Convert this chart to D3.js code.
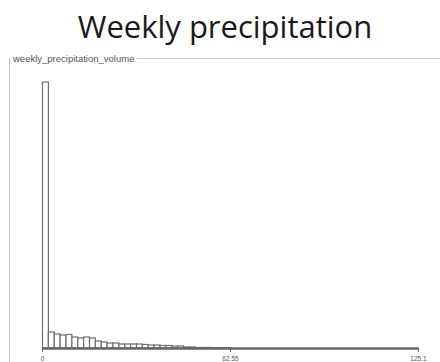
<!DOCTYPE html>
<html>
<head>
<meta charset="utf-8">
<script src="https://cdn.jsdelivr.net/npm/d3@7"></script>
<style>
  body { margin: 0; background: #fff; }
  svg { display: block; }
</style>
</head>
<body>
<svg id="chart" width="440" height="362"></svg>
<script>
// Histogram of weekly precipitation volume, 64 bins from 0 to 125.1
var title = "Weekly precipitation";
var fieldName = "weekly_precipitation_volume";
var xMin = 0, xMax = 125.1;
var tickValues = [0, 62.55, 125.1];
var tickLabels = ["0", "62.55", "125.1"];
var binCounts = [2660, 160, 140, 130, 135, 110, 100, 110, 100, 70, 60, 50, 50, 40, 40, 40,
                 40, 35, 30, 30, 25, 25, 20, 20, 10, 10, 5, 5, 5, 3, 3, 3,
                 0, 0, 0, 0, 0, 0, 0, 0, 0, 0, 0, 0, 0, 0, 0, 0,
                 0, 0, 0, 0, 0, 0, 0, 0, 0, 0, 0, 0, 0, 0, 0, 0];

var svg = d3.select("#chart");

// Title
svg.append("text")
    .attr("x", 225)
    .attr("y", 38)
    .attr("text-anchor", "middle")
    .style("font-family", "'Open Sans', sans-serif")
    .style("font-size", "31px")
    .style("fill", "#1a1a1a")
    .text(title);

// Group box frame
var box = svg.append("g").attr("class", "group-box");
box.append("path")
    .attr("d", "M9.5,362 V58.5 H440")
    .style("fill", "none")
    .style("stroke", "#c4c4c4")
    .style("stroke-width", 1);
var lbl = box.append("text")
    .attr("x", 13)
    .attr("y", 61.5)
    .style("font-family", "'Liberation Sans', Arial, sans-serif")
    .style("font-size", "9.5px")
    .style("fill", "#555")
    .text(fieldName);
var bb = lbl.node().getBBox();
box.insert("rect", "text")
    .attr("x", bb.x - 2)
    .attr("y", bb.y)
    .attr("width", bb.width + 4)
    .attr("height", bb.height)
    .style("fill", "#fff");

// Scales
var x0 = 42, x1 = 418, base = 348;
var x = d3.scaleLinear().domain([xMin, xMax]).range([x0, x1]);
var y = d3.scaleLinear().domain([0, d3.max(binCounts)]).range([base, 82]);
var binW = (xMax - xMin) / binCounts.length;

var bins = binCounts.map(function (c, i) {
    return { x0: xMin + i * binW, x1: xMin + (i + 1) * binW, count: c };
});

// Bars
svg.append("g").attr("class", "bars")
    .selectAll("rect")
    .data(bins.filter(function (d) { return d.count > 0; }))
    .join("rect")
    .attr("x", function (d) { return x(d.x0) + 0.5; })
    .attr("y", function (d) { return y(d.count); })
    .attr("width", function (d) { return x(d.x1) - x(d.x0); })
    .attr("height", function (d) { return base - y(d.count); })
    .style("fill", "#fff")
    .style("stroke", "#6e6e6e")
    .style("stroke-width", 1.2);

// Axis
var axis = d3.axisBottom(x)
    .tickValues(tickValues)
    .tickFormat(function (d, i) { return tickLabels[i]; })
    .tickSize(4)
    .tickSizeOuter(0);
var ax = svg.append("g")
    .attr("transform", "translate(0," + base + ")")
    .call(axis);
ax.select(".domain")
    .style("stroke", "#666")
    .style("stroke-width", 2.5);
ax.selectAll(".tick line").style("stroke", "#666");
ax.selectAll(".tick text")
    .attr("dy", "0.9em")
    .style("font-family", "'Liberation Sans', Arial, sans-serif")
    .style("font-size", "6.5px")
    .style("fill", "#555");
</script>
</body>
</html>
